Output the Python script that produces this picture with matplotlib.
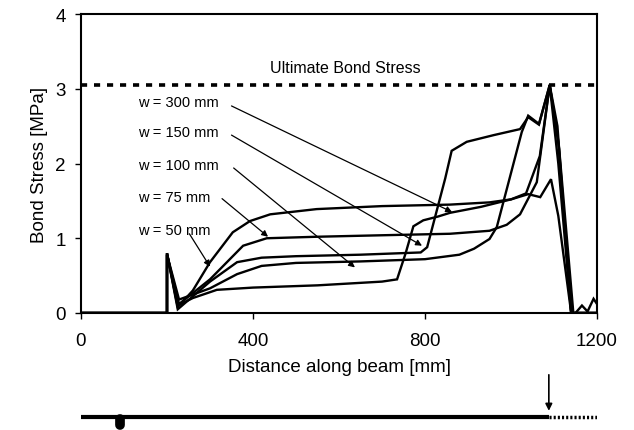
import matplotlib.pyplot as plt

plt.rcParams['font.family'] = ['Liberation Sans', 'DejaVu Sans']

# bond stress along the beam, one curve per w
w50_x = [0, 200, 200, 225, 260, 300, 353, 393, 440, 548, 700, 858, 950, 1000, 1040, 1068, 1093, 1110, 1140, 1150, 1165, 1178, 1192, 1200]
w50_y = [0, 0, 0.80, 0.08, 0.30, 0.68, 1.08, 1.23, 1.32, 1.39, 1.43, 1.45, 1.48, 1.52, 1.59, 1.55, 1.79, 1.30, 0, 0, 0.10, 0.02, 0.19, 0.12]

w75_x = [0, 200, 200, 228, 300, 377, 432, 548, 700, 858, 950, 990, 1021, 1060, 1090, 1110, 1140, 1200]
w75_y = [0, 0, 0.78, 0.12, 0.45, 0.90, 1.00, 1.02, 1.04, 1.06, 1.10, 1.18, 1.32, 1.75, 3.05, 2.00, 0, 0]

w100_x = [0, 200, 200, 228, 300, 363, 420, 500, 650, 800, 880, 914, 950, 967, 1025, 1040, 1065, 1090, 1112, 1145, 1200]
w100_y = [0, 0, 0.78, 0.18, 0.33, 0.52, 0.63, 0.67, 0.69, 0.72, 0.78, 0.86, 0.99, 1.15, 2.42, 2.64, 2.53, 3.05, 2.20, 0, 0]

w150_x = [0, 200, 200, 225, 300, 363, 420, 500, 650, 790, 805, 847, 862, 897, 960, 1021, 1040, 1065, 1090, 1110, 1140, 1200]
w150_y = [0, 0, 0.80, 0.05, 0.42, 0.68, 0.74, 0.76, 0.78, 0.81, 0.88, 1.80, 2.17, 2.29, 2.38, 2.46, 2.62, 2.52, 3.05, 2.30, 0, 0]

w300_x = [0, 200, 200, 225, 260, 316, 400, 550, 700, 735, 755, 773, 796, 830, 858, 930, 1000, 1035, 1067, 1090, 1108, 1140, 1200]
w300_y = [0, 0, 0.80, 0.10, 0.20, 0.31, 0.34, 0.37, 0.42, 0.45, 0.80, 1.16, 1.24, 1.29, 1.34, 1.42, 1.52, 1.60, 2.10, 3.05, 2.50, 0, 0]

ultimate = 3.05

labels = ['w = 300 mm', 'w = 150 mm', 'w = 100 mm', 'w = 75 mm', 'w = 50 mm']
label_y = [2.82, 2.42, 1.98, 1.55, 1.11]
arrow_from = [(350, 2.77), (350, 2.38), (355, 1.94), (328, 1.53), (252, 1.06)]
arrow_to = [(863, 1.35), (793, 0.90), (637, 0.61), (435, 1.02), (300, 0.62)]

fig = plt.figure(figsize=(6.34, 4.31), dpi=100)
ax = fig.add_axes([81/634, 1 - 314/431, 516/634, 299/431])

for xs, ys in [(w50_x, w50_y), (w75_x, w75_y), (w100_x, w100_y), (w150_x, w150_y), (w300_x, w300_y)]:
    ax.plot(xs, ys, color='black', lw=1.7, solid_joinstyle='miter')

ax.axhline(ultimate, color='black', lw=2.6, ls=(0, (1.7, 1.9)))
ax.text(614, 3.29, 'Ultimate Bond Stress', ha='center', va='center', fontsize=11.5)

for lab, ly, a0, a1 in zip(labels, label_y, arrow_from, arrow_to):
    ax.text(133, ly, lab, ha='left', va='center', fontsize=10.5)
    ax.annotate('', xy=a1, xytext=a0,
                arrowprops=dict(arrowstyle='-|>', lw=0.9, color='black',
                                mutation_scale=9, shrinkA=0, shrinkB=0))

ax.set_xlim(0, 1200)
ax.set_ylim(0, 4)
ax.set_xticks([0, 400, 800, 1200])
ax.set_yticks([0, 1, 2, 3, 4])
ax.tick_params(direction='out', length=4, width=1, labelsize=13.5)
ax.tick_params(axis='x', pad=10)
ax.tick_params(axis='y', pad=7)
for s in ax.spines.values():
    s.set_linewidth(1.5)
ax.set_xlabel('Distance along beam [mm]', fontsize=13.5, labelpad=6)
ax.set_ylabel('Bond Stress [MPa]', fontsize=13.5, labelpad=5)

# beam sketch under the chart
ax2 = fig.add_axes([81/634, 0, 516/634, 60/431])
ax2.set_xlim(0, 1200)
ax2.set_ylim(0, 1)
ax2.axis('off')
ax2.plot([0, 1088], [0.22, 0.22], color='black', lw=3, solid_capstyle='butt')
ax2.plot([1088, 1200], [0.22, 0.22], color='black', lw=2.5, ls=(0, (0.6, 0.6)))
ax2.plot([91, 91], [0.08, 0.18], color='black', lw=7, solid_capstyle='round')
ax2.annotate('', xy=(1088, 0.32), xytext=(1088, 0.92),
             arrowprops=dict(arrowstyle='-|>', lw=1.2, color='black', mutation_scale=10,
                             shrinkA=0, shrinkB=0))

fig.savefig('out.png', dpi=100)
